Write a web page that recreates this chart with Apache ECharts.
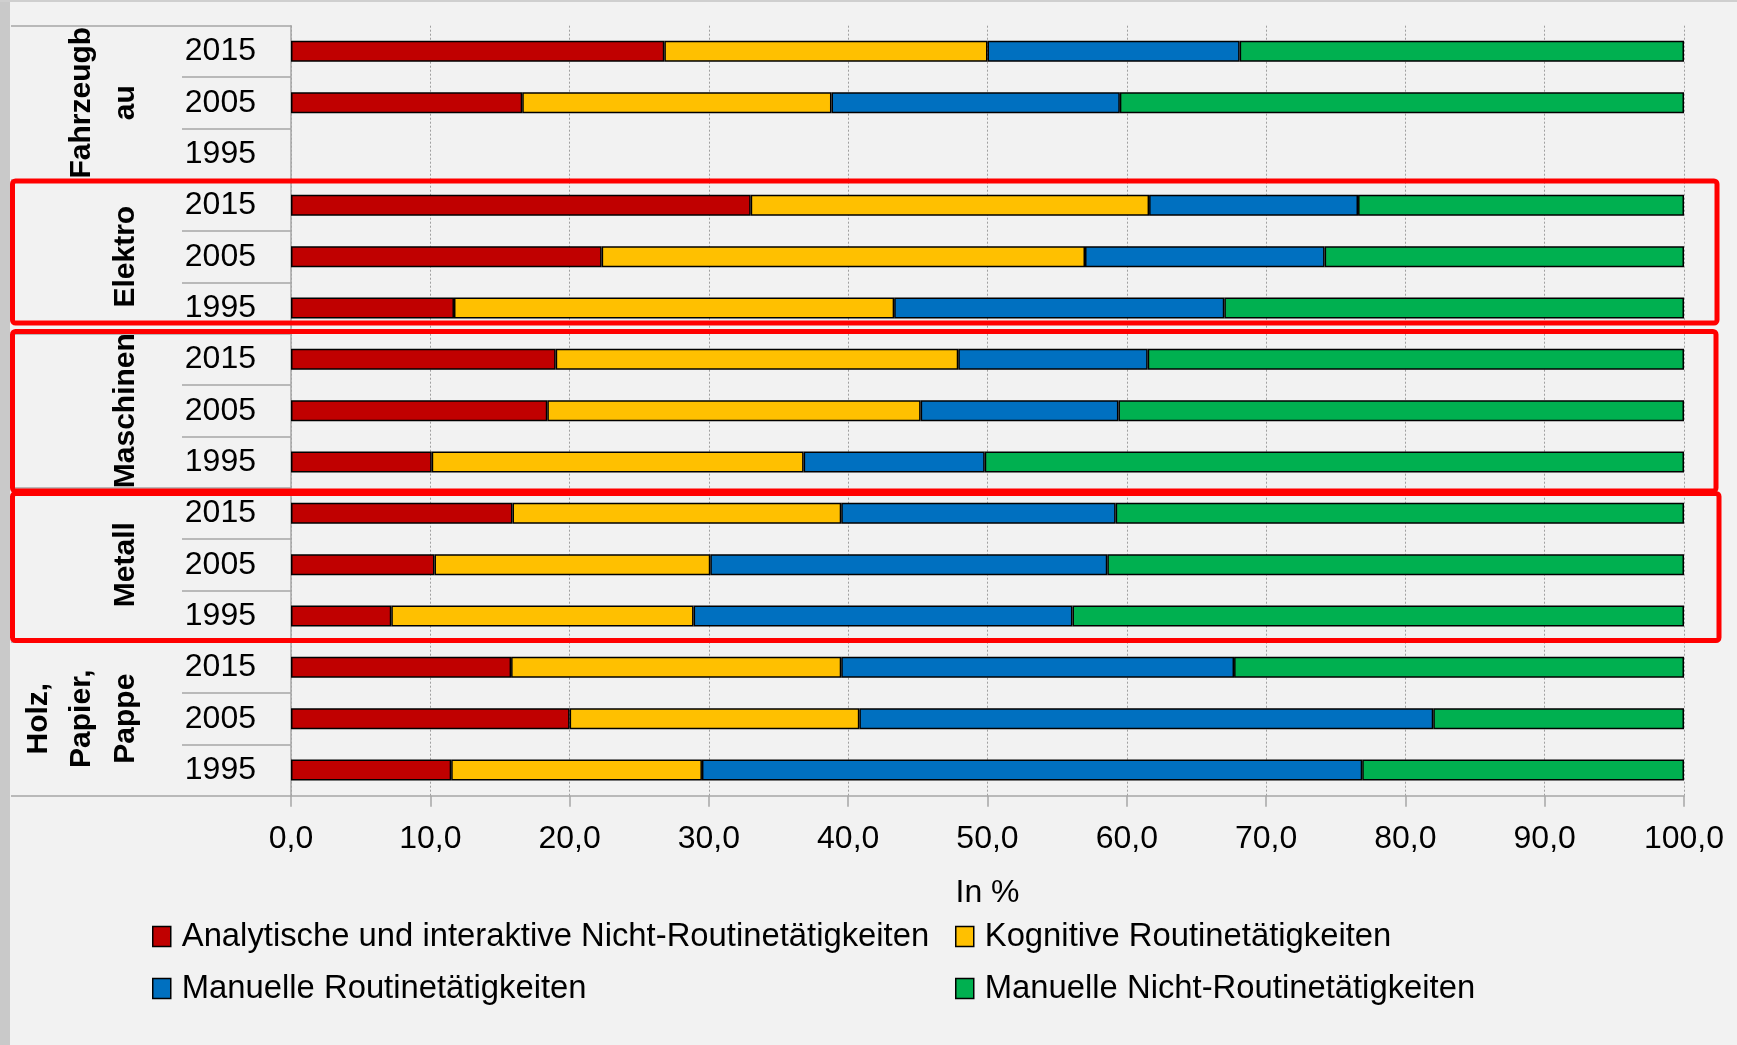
<!DOCTYPE html>
<html lang="de">
<head>
<meta charset="utf-8">
<title>Tätigkeitsstruktur nach Branchen</title>
<script src="https://cdn.jsdelivr.net/npm/echarts@6/dist/echarts.min.js"></script>
<style>
  html, body { margin: 0; padding: 0; background: #f2f2f2; }
  #chart { width: 1737px; height: 1045px; }
</style>
</head>
<body>
<div id="chart"></div>
<script>
// Branchen (Gruppen) und Jahre je Gruppe, von oben nach unten
const branchen = ['Fahrzeugb\nau', 'Elektro', 'Maschinen', 'Metall', 'Holz,\nPapier,\nPappe'];
const jahre = ['2015', '2005', '1995'];

// Anteile in %, je Zeile: Branche × Jahr (Fahrzeugbau 1995 ohne Werte)
const analytischInteraktiv = [26.8, 16.6, null, 33.0, 22.3, 11.7, 19.0, 18.4, 10.1, 15.9, 10.3, 7.2, 15.8, 20.0, 11.5];
const kognitivRoutine     = [23.2, 22.2, null, 28.6, 34.7, 31.6, 28.9, 26.8, 26.7, 23.6, 19.8, 21.7, 23.7, 20.8, 18.0];
const manuellRoutine      = [18.1, 20.7, null, 15.0, 17.2, 23.7, 13.6, 14.2, 13.0, 19.7, 28.5, 27.2, 28.2, 41.2, 47.4];
const manuellNichtRoutine = [31.9, 40.5, null, 23.4, 25.8, 33.0, 38.5, 40.6, 50.2, 40.8, 41.4, 43.9, 32.3, 18.0, 23.1];

// Achsenbeschriftung der Werteachse
const xTicks = [0, 10, 20, 30, 40, 50, 60, 70, 80, 90, 100];

const serienNamen = [
  'Analytische und interaktive Nicht-Routinetätigkeiten',
  'Kognitive Routinetätigkeiten',
  'Manuelle Routinetätigkeiten',
  'Manuelle Nicht-Routinetätigkeiten'
];
const serienWerte = [analytischInteraktiv, kognitivRoutine, manuellRoutine, manuellNichtRoutine];
const serienFarben = ['#c00000', '#ffc000', '#0070c0', '#00b050'];

// Zeilen-Schlüssel (eindeutig), Anzeige nur als Jahreszahl
const zeilen = [];
branchen.forEach((b, i) => jahre.forEach(j => zeilen.push(i + '|' + j)));

const FONT = 'Liberation Sans, Arial, sans-serif';
const GRAU = '#a6a6a6';

const chart = echarts.init(document.getElementById('chart'), null, { renderer: 'canvas' });

const legendPos = [
  { left: 152, top: 920 },
  { left: 955, top: 920 },
  { left: 152, top: 972 },
  { left: 955, top: 972 }
];

const option = {
  backgroundColor: '#f2f2f2',
  animation: false,
  textStyle: { fontFamily: FONT },
  grid: { left: 291, right: 53, top: 25.7, bottom: 249.3, containLabel: false },
  legend: serienNamen.map((n, i) => ({
    data: [n],
    left: legendPos[i].left,
    top: legendPos[i].top,
    padding: 0,
    icon: 'rect',
    itemWidth: 18,
    itemHeight: 20,
    selectedMode: false,
    itemStyle: { borderColor: '#000', borderWidth: 1.5 },
    textStyle: { fontFamily: FONT, fontSize: 32.8, color: '#000', padding: [0, 0, 0, 6] }
  })),
  xAxis: {
    type: 'value',
    min: 0,
    max: 100,
    interval: 10,
    name: 'In %',
    nameLocation: 'middle',
    nameGap: 81,
    nameTextStyle: { fontFamily: FONT, fontSize: 32, color: '#000' },
    axisLine: { show: true, lineStyle: { color: GRAU, width: 1.5 } },
    axisTick: { show: true, length: 11, lineStyle: { color: GRAU, width: 1.5 } },
    axisLabel: {
      margin: 27,
      fontFamily: FONT,
      fontSize: 32,
      color: '#000',
      formatter: v => xTicks.includes(v) ? v.toFixed(1).replace('.', ',') : ''
    },
    splitLine: { show: true, lineStyle: { color: '#a0a0a0', width: 1, type: [2, 2] } }
  },
  yAxis: [
    {
      type: 'category',
      data: zeilen,
      inverse: true,
      position: 'left',
      axisLine: { show: true, lineStyle: { color: GRAU, width: 1.5 } },
      axisTick: { show: true, length: 109, lineStyle: { color: GRAU, width: 1.5 } },
      axisLabel: {
        interval: 0,
        margin: 35,
        fontFamily: FONT,
        fontSize: 32,
        color: '#000',
        formatter: v => v.split('|')[1]
      },
      splitLine: { show: false }
    },
    {
      type: 'category',
      data: branchen,
      inverse: true,
      position: 'left',
      axisLine: { show: false },
      axisTick: { show: true, length: 280, lineStyle: { color: GRAU, width: 1.5 } },
      axisLabel: {
        interval: 0,
        rotate: 90,
        margin: 144,
        fontFamily: FONT,
        fontSize: 30,
        fontWeight: 'bold',
        lineHeight: 43.5,
        color: '#000'
      },
      splitLine: { show: false }
    }
  ],
  series: serienNamen.map((n, i) => ({
    name: n,
    type: 'bar',
    stack: 'anteile',
    yAxisIndex: 0,
    barWidth: 21,
    data: serienWerte[i].map(v => v === null ? '-' : v),
    itemStyle: { color: serienFarben[i], borderColor: '#000', borderWidth: 1.5 },
    emphasis: { disabled: true }
  })),
  graphic: [
    // Rahmen links und oben
    { type: 'rect', z: 50, silent: true, shape: { x: 0, y: 0, width: 10, height: 1045 }, style: { fill: '#c9c9c9' } },
    { type: 'rect', z: 50, silent: true, shape: { x: 0, y: 0, width: 1737, height: 2 }, style: { fill: '#cfcfcf' } },
    // Hervorhebung: Elektro, Maschinen, Metall
    { type: 'rect', z: 100, silent: true, shape: { x: 12.5, y: 181, width: 1704.5, height: 142, r: 3 }, style: { fill: 'none', stroke: '#ff0000', lineWidth: 5 } },
    { type: 'rect', z: 100, silent: true, shape: { x: 12.5, y: 331.5, width: 1703.5, height: 159.5, r: 3 }, style: { fill: 'none', stroke: '#ff0000', lineWidth: 5 } },
    { type: 'rect', z: 100, silent: true, shape: { x: 12.5, y: 493.5, width: 1706.5, height: 147, r: 3 }, style: { fill: 'none', stroke: '#ff0000', lineWidth: 5 } }
  ]
};

chart.setOption(option);
</script>
</body>
</html>
